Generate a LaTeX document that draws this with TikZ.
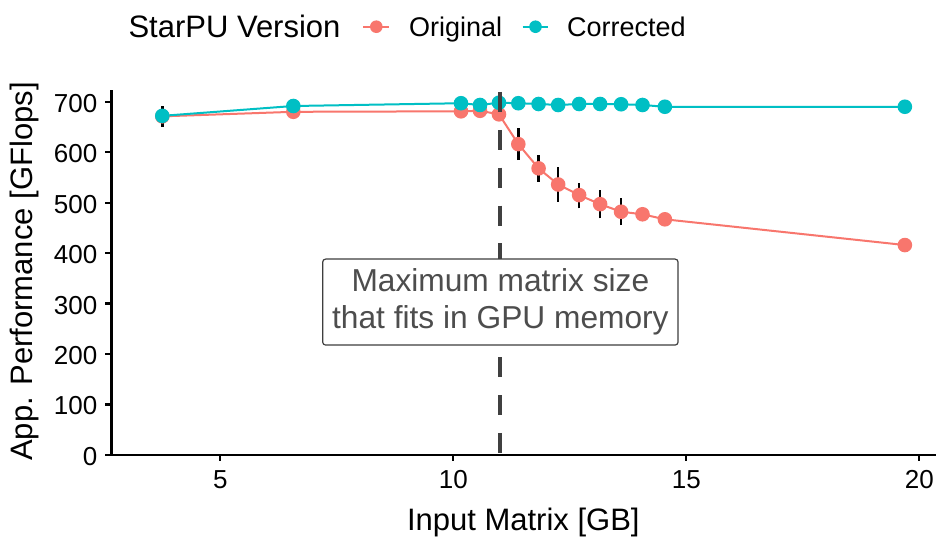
\documentclass[tikz,border=0pt]{standalone}
\usepackage{fontspec}
\setmainfont{Liberation Sans}
\definecolor{orig}{HTML}{F8766D}
\definecolor{corr}{HTML}{00BFC4}
\definecolor{vlinegray}{HTML}{404040}
\definecolor{notegray}{HTML}{4D4D4D}

\begin{document}
\begin{tikzpicture}[x=1pt,y=-1pt,
  axisline/.style={line width=2.2pt, black},
  ticklabel/.style={font=\fontsize{26}{30}\selectfont, inner sep=0pt, text=black},
  axtitle/.style={font=\fontsize{31}{36}\selectfont, inner sep=0pt, text=black},
  legtitle/.style={font=\fontsize{31}{36}\selectfont, inner sep=0pt, text=black},
  leglabel/.style={font=\fontsize{27}{31}\selectfont, inner sep=0pt, text=black},
  origline/.style={line width=2pt, orig},
  corrline/.style={line width=2pt, corr},
  origpt/.style={circle, fill=orig, inner sep=0pt, minimum size=14.6pt},
  corrpt/.style={circle, fill=corr, inner sep=0pt, minimum size=14.6pt},
  origkey/.style={circle, fill=orig, inner sep=0pt, minimum size=12.6pt},
  corrkey/.style={circle, fill=corr, inner sep=0pt, minimum size=12.6pt},
  errbar/.style={line width=2.6pt, black},
  limitline/.style={line width=4.2pt, vlinegray, dash pattern=on 20pt off 17.9pt},
  notebox/.style={draw=notegray!80!black, line width=1.2pt, rounded corners=3pt, fill=white,
    text=notegray, minimum width=355.4pt, minimum height=86pt, inner sep=0pt, align=center,
    font=\fontsize{31.7}{37.3}\selectfont}]
\useasboundingbox (0,0) rectangle (939,539);
\fill[white] (0,0) rectangle (939,539);

% ---------- plotting panel in data units (GB, GFlops) ----------
\begin{scope}[shift={(-12.7,455)}, x=46.6pt, y=0.5047pt]
  % axes
  \draw[axisline] (2.665,723) -- (2.665,0) -- (20.36,0);
  % y ticks and labels
  \foreach \v in {0,100,...,700} {
    \draw[axisline] (2.665,\v) -- ++(-6.5pt,0pt);
    \node[ticklabel, anchor=east, xshift=-14pt, yshift=-1.5pt] (yt\v) at (2.665,\v) {\v};
  }
  % x ticks and labels
  \foreach \g in {5,10,15,20} {
    \draw[axisline] (\g,0) -- ++(0pt,-6pt);
    \node[ticklabel, anchor=base, yshift=-33pt] (xt\g) at (\g,0) {\g};
  }

  % measurements
  \foreach \g/\v [count=\i] in {3.755/671, 6.567/680, 10.165/681, 10.573/682, 10.98/675,
      11.395/616, 11.83/568, 12.25/536, 12.70/515, 13.15/497, 13.60/482,
      14.06/477, 14.54/467, 19.69/416}
    \coordinate (o\i) at (\g,\v);
  \foreach \g/\v [count=\i] in {3.755/672, 6.567/691.5, 10.165/697, 10.573/693.5, 10.98/698,
      11.395/697, 11.83/695.5, 12.25/693.5, 12.70/695.5, 13.15/695.5, 13.60/695,
      14.06/693.5, 14.54/690, 19.69/690}
    \coordinate (c\i) at (\g,\v);

  % connecting lines
  \draw[origline] (o1) \foreach \i in {2,...,14} { -- (o\i) };
  \draw[corrline] (c1) \foreach \i in {2,...,14} { -- (c\i) };

  % error bars
  \foreach \g/\lo/\hi in {3.755/650.5/692, 11.395/584.5/647.3, 11.83/541.5/594.4,
      12.25/501.9/571.2, 12.70/488.8/538.3, 13.15/469/525, 13.60/455.7/508.6}
    \draw[errbar] (\g,\lo) -- (\g,\hi);

  % points
  \foreach \i in {1,...,14} \node[origpt] (op\i) at (o\i) {};
  \foreach \i in {1,...,14} \node[corrpt] (cp\i) at (c\i) {};

  % GPU memory limit
  \coordinate (limtop) at (11,719.5);
  \coordinate (limbot) at (11,0);
  \draw[limitline] (limtop) -- (limbot);
  \node[notebox] (note) at (11.01,303) {Maximum matrix size\\that fits in GPU memory};
\end{scope}

% ---------- axis titles ----------
\node[axtitle, anchor=base] (xtitle) at (523.3,530) {Input Matrix [GB]};
\node[axtitle, anchor=base, rotate=90] (ytitle) at (32,271.5) {App. Performance [GFlops]};

% ---------- legend ----------
\node[legtitle, anchor=base west] (legtitle) at (128.3,37.7) {StarPU Version};
\coordinate (ka) at (363.3,26.7);
\coordinate (kb) at (389.3,26.7);
\draw[origline] (ka) -- (kb);
\node[origkey] (kdot1) at (376.3,26.7) {};
\node[leglabel, anchor=base west] (leg1) at (409,36) {Original};
\coordinate (kc) at (522.7,26.7);
\coordinate (kd) at (548.3,26.7);
\draw[corrline] (kc) -- (kd);
\node[corrkey] (kdot2) at (535.5,26.7) {};
\node[leglabel, anchor=base west] (leg2) at (567,36) {Corrected};
\end{tikzpicture}
\end{document}
